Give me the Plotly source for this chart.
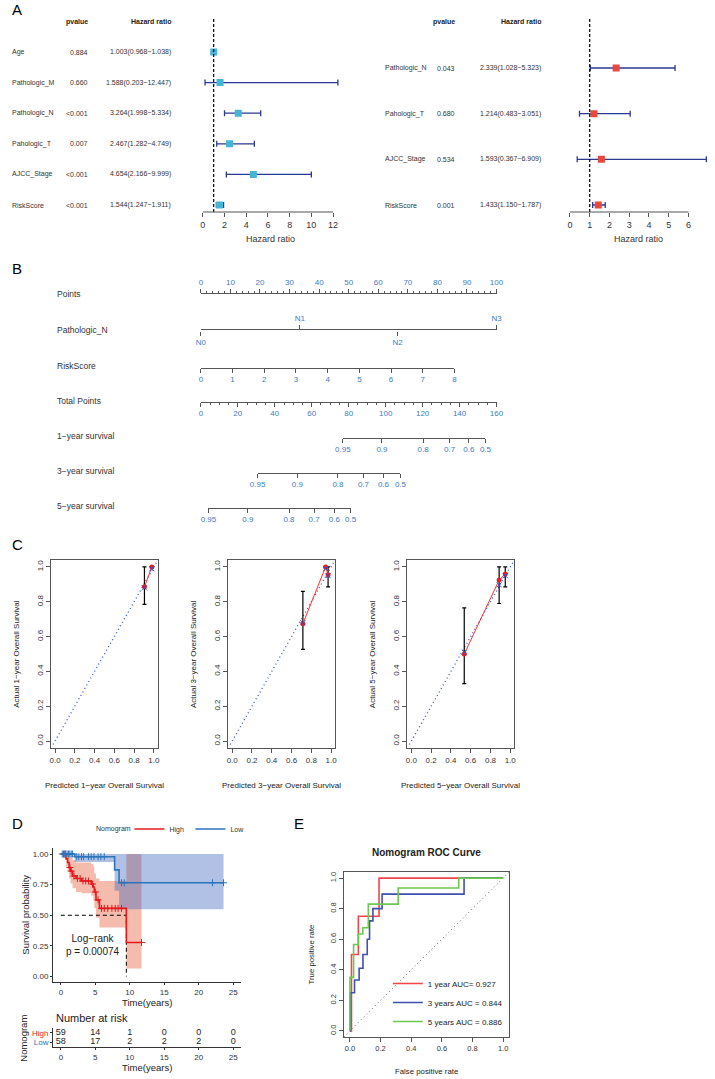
import numpy as np
import plotly.graph_objects as go

W, H = 715, 1079
FONT = "Liberation Sans, Arial, sans-serif"
AXC = "#555555"
NOMO_BLUE = "#3C7BC5"

# ---------------- A: Cox regression ----------------
uni_vars = ["Age", "Pathologic_M", "Pathologic_N", "Pahologic_T", "AJCC_Stage", "RiskScore"]
uni_pval = ["0.884", "0.660", "<0.001", "0.007", "<0.001", "<0.001"]
uni_hr = [1.003, 1.588, 3.264, 2.467, 4.654, 1.544]
uni_low = [0.968, 0.203, 1.998, 1.282, 2.166, 1.247]
uni_high = [1.038, 12.447, 5.334, 4.749, 9.999, 1.911]
uni_ticks = [0, 2, 4, 6, 8, 10, 12]

multi_vars = ["Pathologic_N", "Pahologic_T", "AJCC_Stage", "RiskScore"]
multi_pval = ["0.043", "0.680", "0.534", "0.001"]
multi_hr = [2.339, 1.214, 1.593, 1.433]
multi_low = [1.028, 0.483, 0.367, 1.150]
multi_high = [5.323, 3.051, 6.909, 1.787]
multi_ticks = [0, 1, 2, 3, 4, 5, 6]

# ---------------- B: nomogram ----------------
points_ticks = list(range(0, 101, 10))
pathn_levels = ["N0", "N1", "N2", "N3"]
pathn_points = [0, 33.5, 66.5, 100]
risk_ticks = list(range(0, 9))
risk_points_per_unit = 10.72
total_ticks = list(range(0, 161, 20))
surv_labels = ["0.95", "0.9", "0.8", "0.7", "0.6", "0.5"]
surv1_total = [76.8, 98.0, 120.3, 134.6, 145.0, 154.0]
surv3_total = [30.7, 52.2, 74.2, 88.0, 98.8, 108.0]
surv5_total = [4.1, 25.4, 47.7, 61.3, 72.2, 81.0]

# ---------------- C: calibration ----------------
cal1_pred = [0.905, 0.98]
cal1_obs = [0.886, 1.0]
cal1_low = [0.785, 1.0]
cal1_high = [1.0, 1.0]
cal1_corr = [0.88, 0.99]
cal3_pred = [0.715, 0.945, 0.97]
cal3_obs = [0.674, 1.0, 0.955]
cal3_low = [0.526, 1.0, 0.886]
cal3_high = [0.86, 1.0, 1.0]
cal3_corr = [0.68, 0.99, 0.95]
cal5_pred = [0.535, 0.888, 0.95]
cal5_obs = [0.50, 0.925, 0.96]
cal5_low = [0.33, 0.79, 0.886]
cal5_high = [0.765, 1.0, 1.0]
cal5_corr = [0.51, 0.897, 0.95]
cal_ticks = [0, 0.2, 0.4, 0.6, 0.8, 1.0]

# ---------------- D: Kaplan-Meier ----------------
high_time = [0, 0.75, 1.0, 1.2, 1.4, 1.7, 2.2, 3.0, 4.4, 4.7, 4.85, 5.1, 5.6, 9.5]
high_surv = [1.0, 0.96, 0.93, 0.89, 0.86, 0.82, 0.80, 0.78, 0.755, 0.73, 0.69, 0.625, 0.556, 0.278]
high_lower = [1.0, 0.90, 0.86, 0.80, 0.76, 0.72, 0.69, 0.68, 0.66, 0.62, 0.56, 0.48, 0.40, 0.065]
high_upper = [1.0, 1.0, 1.0, 0.99, 0.97, 0.95, 0.93, 0.93, 0.92, 0.90, 0.84, 0.80, 0.78, 1.0]
high_end = 11.7
high_censor = [0.4, 0.6, 1.3, 1.5, 1.9, 2.4, 2.8, 3.2, 3.6, 4.0, 4.6, 5.0, 5.4, 5.9,
               6.3, 6.8, 7.4, 7.9, 8.3, 8.8, 11.7]
low_time = [0, 2.0, 7.8, 8.45]
low_surv = [1.0, 0.978, 0.87, 0.765]
low_lower = [1.0, 0.935, 0.70, 0.548]
low_upper = [1.0, 1.0, 1.0, 1.0]
low_end = 23.6
low_censor = [0.2, 0.5, 0.7, 0.9, 1.1, 1.3, 1.5, 1.7, 2.3, 2.6, 3.0, 3.3, 4.0, 4.4,
              4.8, 5.4, 5.8, 6.3, 8.8, 9.2, 22.0, 23.6]
high_median = 9.5
logrank_p = "0.00074"
km_ticks = [0, 5, 10, 15, 20, 25]
risk_times = [0, 5, 10, 15, 20, 25]
risk_high = [59, 14, 1, 0, 0, 0]
risk_low = [58, 17, 2, 2, 2, 0]

# ---------------- E: ROC ----------------
roc1_fpr = [0, 0.01, 0.055, 0.19, 1.0]
roc1_tpr = [0, 0.5, 0.75, 1.0, 1.0]
roc3_fpr = [0, 0.003, 0.03, 0.06, 0.085, 0.113, 0.128, 0.15, 0.21, 0.745, 1.0]
roc3_tpr = [0, 0.25, 0.333, 0.41, 0.5, 0.6, 0.72, 0.8, 0.895, 1.0, 1.0]
roc5_fpr = [0, 0.0, 0.024, 0.055, 0.084, 0.12, 0.315, 0.71, 1.0]
roc5_tpr = [0, 0.35, 0.565, 0.634, 0.675, 0.83, 0.935, 1.0, 1.0]
roc_names = ["1 year AUC= 0.927", "3 years AUC = 0.844", "5 years AUC = 0.886"]


def px_x(p):
    return p / W


def px_y(p):
    return 1 - p / H


def xd(a, b):
    return [a / W, b / W]


def yd(top, bot):
    return [1 - bot / H, 1 - top / H]


def lin_range(p0, p1, va, pa, vb, pb):
    k = (vb - va) / (pb - pa)
    return [va + (p0 - pa) * k, va + (p1 - pa) * k]


fig = go.Figure()
lay = {}
ann = []
shp = []


def axes(n, xdom, ydom, xopt, yopt):
    s = "" if n == 1 else str(n)
    xa = dict(domain=xdom, anchor="y" + s, showgrid=False, zeroline=False, fixedrange=True)
    xa.update(xopt)
    ya = dict(domain=ydom, anchor="x" + s, showgrid=False, zeroline=False, fixedrange=True)
    ya.update(yopt)
    lay["xaxis" + s] = xa
    lay["yaxis" + s] = ya
    return "x" + s, "y" + s


def txt(text, x, y, size, xanchor="center", yanchor="middle", color="#222",
        xref="paper", yref="paper", angle=0):
    ann.append(dict(text=text, x=x, y=y, xref=xref, yref=yref, showarrow=False,
                    font=dict(size=size, color=color, family=FONT),
                    xanchor=xanchor, yanchor=yanchor, textangle=angle))


def hr_text(h, l, u):
    return f"{h:.3f}({l:.3f}\u2212{u:.3f})"


# ---- A: forest plots
def forest(n, xpx, zero_px, per_unit, rows_top, row_gap, vars_, pvals, hrs, lows, highs,
           ticks, color, label_x, p_x, hr_x, title_x):
    nrow = len(vars_)
    xr = lin_range(xpx[0], xpx[1], 0, zero_px, 1, zero_px + per_unit)
    yr = [(212 - rows_top) / row_gap, (15 - rows_top) / row_gap]
    xa, ya = axes(n, xd(*xpx), yd(15, 212),
                  dict(range=xr, tickvals=ticks, ticks="outside", ticklen=4, tickcolor=AXC,
                       tickfont=dict(size=9, color="#333", family=FONT)),
                  dict(visible=False, range=yr))
    rows = list(range(nrow))
    h = np.array(hrs)
    fig.add_trace(go.Scatter(
        x=hrs, y=rows, xaxis=xa, yaxis=ya, mode="markers",
        marker=dict(symbol="square", size=7, color=color),
        error_x=dict(type="data", symmetric=False, array=list(np.array(highs) - h),
                     arrayminus=list(h - np.array(lows)), color="#2B3990", thickness=1.3, width=3),
        showlegend=False, hoverinfo="skip"))
    shp.append(dict(type="line", xref=xa, yref=ya + " domain", x0=1, x1=1, y0=0, y1=0.985,
                    line=dict(color="black", width=1.2, dash="3px,2px")))
    shp.append(dict(type="line", xref=xa, yref=ya + " domain", x0=ticks[0], x1=ticks[-1],
                    y0=0, y1=0, line=dict(color=AXC, width=1)))
    for i in rows:
        txt(vars_[i], px_x(label_x), i, 7, xanchor="left", yref=ya, color="#333")
        txt(pvals[i], px_x(p_x), i, 7, xanchor="right", yref=ya, color="#333")
        txt(hr_text(hrs[i], lows[i], highs[i]), px_x(hr_x), i, 7, xanchor="right", yref=ya,
            color="#333")
    txt("<b>pvalue</b>", px_x(p_x), px_y(22), 7, xanchor="right")
    txt("<b>Hazard ratio</b>", px_x(hr_x), px_y(22), 7, xanchor="right")
    txt("Hazard ratio", px_x(title_x), px_y(239), 9, color="#333")


forest(1, (190, 345), 199, 133 / 12, 52, 30.6, uni_vars, uni_pval, uni_hr, uni_low, uni_high,
       uni_ticks, "#45B5D6", 2, 84, 169, 268)
forest(2, (560, 715), 574, 121 / 6, 68, 45.67, multi_vars, multi_pval, multi_hr, multi_low,
       multi_high, multi_ticks, "#E8483D", 383, 459, 546, 644)

# ---- B: nomogram rows
P0, P100 = 197, 499
T_MAX = total_ticks[-1]


def pts_px(p):
    return P0 + p * (P100 - P0) / 100


def tot_px(t):
    return P0 + t * (P100 - P0) / T_MAX


brow = dict(showline=True, linecolor=AXC, linewidth=1, ticks="outside", ticklen=4,
            tickcolor=AXC, tickfont=dict(size=8, color=NOMO_BLUE, family=FONT))


def nomo_row(n, x0, x1, line_y, xopt, vals):
    opt = dict(brow)
    opt.update(xopt)
    xa, ya = axes(n, xd(x0, x1), yd(line_y - 0.5, line_y + 0.5), opt,
                  dict(visible=False, range=[0, 1]))
    fig.add_trace(go.Scatter(x=vals, y=[0.5] * len(vals), xaxis=xa, yaxis=ya, mode="markers",
                             marker=dict(opacity=0), showlegend=False, hoverinfo="skip"))
    return xa, ya


nomo_row(3, P0, P100, 294, dict(range=[0, 100], side="top", tickmode="linear", tick0=0, dtick=10,
                                minor=dict(dtick=2, ticks="outside", ticklen=2, tickcolor=AXC)),
         points_ticks)
nomo_row(4, P0, P100, 330, dict(range=[0, 100], side="top", tickvals=pathn_points[1::2],
                                ticktext=pathn_levels[1::2]), pathn_points)
lay["xaxis5"] = dict(overlaying="x4", anchor="y4", side="bottom", range=[0, 100],
                     showline=False, showgrid=False, zeroline=False, ticks="outside", ticklen=4,
                     tickcolor=AXC, tickvals=pathn_points[0::2], ticktext=pathn_levels[0::2],
                     tickfont=dict(size=8, color=NOMO_BLUE, family=FONT), fixedrange=True)
fig.add_trace(go.Scatter(x=pathn_points, y=[0.5] * 4, xaxis="x5", yaxis="y4", mode="markers",
                         marker=dict(opacity=0), showlegend=False, hoverinfo="skip"))
nomo_row(6, P0, pts_px(risk_ticks[-1] * risk_points_per_unit), 367,
         dict(range=[risk_ticks[0], risk_ticks[-1]], tickvals=risk_ticks), risk_ticks)
nomo_row(7, P0, P100, 401, dict(range=[0, T_MAX], tickmode="linear", tick0=0, dtick=20,
                                minor=dict(dtick=5, ticks="outside", ticklen=2, tickcolor=AXC)),
         total_ticks)
for n, vals, ly in [(8, surv1_total, 437), (9, surv3_total, 472), (10, surv5_total, 507)]:
    nomo_row(n, tot_px(min(vals)), tot_px(max(vals)), ly,
             dict(range=[min(vals), max(vals)], tickvals=vals, ticktext=surv_labels), vals)

for lab, ly in [("Points", 294), ("Pathologic_N", 330), ("RiskScore", 366),
                ("Total Points", 401), ("1\u2212year survival", 436),
                ("3\u2212year survival", 471), ("5\u2212year survival", 506)]:
    txt(lab, px_x(48), px_y(ly), 8.5, xanchor="left", color="#333")

# ---- C: calibration plots
frame = dict(range=[-0.04, 1.04], showline=True, mirror=True, linecolor=AXC, linewidth=1,
             ticks="outside", ticklen=4, tickcolor=AXC, tickvals=cal_ticks, tickformat=".1f",
             tickfont=dict(size=8, color="#333", family=FONT))
cal_sets = [
    (11, 44, 1, cal1_pred, cal1_obs, cal1_low, cal1_high, cal1_corr),
    (12, 225, 3, cal3_pred, cal3_obs, cal3_low, cal3_high, cal3_corr),
    (13, 408, 5, cal5_pred, cal5_obs, cal5_low, cal5_high, cal5_corr),
]
for n, left, yr, pred, obs, lo, hi, corr in cal_sets:
    yopt = dict(frame)
    yopt["tickangle"] = -90
    xa, ya = axes(n, xd(left, left + 109), yd(560, 748), dict(frame), yopt)
    fig.add_trace(go.Scatter(x=[-0.02, 1.04], y=[-0.02, 1.04], xaxis=xa, yaxis=ya, mode="lines",
                             line=dict(color="#3355DD", width=1.3, dash="1px,3px"),
                             showlegend=False, hoverinfo="skip"))
    o = np.array(obs)
    fig.add_trace(go.Scatter(
        x=pred, y=obs, xaxis=xa, yaxis=ya, mode="lines+markers",
        line=dict(color="#FF3030", width=1), marker=dict(size=5, color="#E0202A"),
        error_y=dict(type="data", symmetric=False, array=list(np.array(hi) - o),
                     arrayminus=list(o - np.array(lo)), color="black", thickness=1.2, width=2),
        showlegend=False, hoverinfo="skip"))
    fig.add_trace(go.Scatter(x=pred, y=corr, xaxis=xa, yaxis=ya, mode="markers",
                             marker=dict(symbol="x-thin-open", size=5, color="#3050C0",
                                         line=dict(width=1, color="#3050C0")),
                             showlegend=False, hoverinfo="skip"))
    txt(f"Predicted {yr}\u2212year Overall Survival", px_x(left + 54.5), px_y(785), 8)
    txt(f"Actual {yr}\u2212year Overall Survival", px_x(left - 36), px_y(654), 8, angle=-90)

# ---- D: Kaplan-Meier
km_xr = lin_range(46, 238, 0, 54, 25, 230)
km_yr = lin_range(982, 848, 0, 976.5, 1, 854)
kmx = dict(range=km_xr, showline=True, linecolor="#333", linewidth=1, ticks="outside",
           ticklen=2, tickcolor="#333", tickvals=km_ticks,
           tickfont=dict(size=8, color="#333", family=FONT))
xk, yk = axes(14, xd(46, 238), yd(848, 982), dict(kmx),
              dict(range=km_yr, showline=True, linecolor="#333", linewidth=1, ticks="outside",
                   ticklen=2, tickcolor="#333", tickvals=[0, 0.25, 0.5, 0.75, 1.0],
                   tickformat=".2f", tickfont=dict(size=8, color="#333", family=FONT)))


def step_at(ts, ss, x):
    idx = np.searchsorted(np.array(ts), np.array(x), side="right") - 1
    return list(np.array(ss)[idx])


groups = [
    ("High", high_time, high_surv, high_lower, high_upper, high_end, high_censor,
     "#E41A1C", "rgba(235,120,90,0.5)"),
    ("Low", low_time, low_surv, low_lower, low_upper, low_end, low_censor,
     "#2A74BC", "rgba(60,100,190,0.4)"),
]
for name, t, s, lo, hi, end, cens, col, fill in groups:
    tx = t + [end]
    fig.add_trace(go.Scatter(x=tx, y=lo + [lo[-1]], xaxis=xk, yaxis=yk, mode="lines",
                             line=dict(width=0, shape="hv"), showlegend=False, hoverinfo="skip"))
    fig.add_trace(go.Scatter(x=tx, y=hi + [hi[-1]], xaxis=xk, yaxis=yk, mode="lines",
                             line=dict(width=0, shape="hv"), fill="tonexty", fillcolor=fill,
                             showlegend=False, hoverinfo="skip"))
fig.add_trace(go.Scatter(x=[0, high_median, high_median], y=[0.5, 0.5, 0], xaxis=xk, yaxis=yk,
                         mode="lines", line=dict(color="black", width=1, dash="4px,3px"),
                         showlegend=False, hoverinfo="skip"))
for name, t, s, lo, hi, end, cens, col, fill in groups:
    fig.add_trace(go.Scatter(x=t + [end], y=s + [s[-1]], xaxis=xk, yaxis=yk, mode="lines",
                             line=dict(color=col, width=1.6, shape="hv"), name=name,
                             legend="legend", showlegend=True, hoverinfo="skip"))
    fig.add_trace(go.Scatter(x=cens, y=step_at(t, s, cens), xaxis=xk, yaxis=yk, mode="markers",
                             marker=dict(symbol="cross-thin-open", size=5, color=col,
                                         line=dict(width=1, color=col)),
                             showlegend=False, hoverinfo="skip"))
txt(f"Log\u2212rank<br>p = {logrank_p}", 0.5, 0.26, 10, xanchor="left", xref=xk, yref=yk,
    color="#222")
txt("Survival probability", px_x(17), px_y(915), 9.5, angle=-90)
txt("Time(years)", px_x(142), px_y(1002), 9.5)
txt("Nomogram", px_x(128), px_y(829), 7, xanchor="right", color="#333")

# risk table
xr_, yr_ = axes(15, xd(46, 238), yd(1028, 1047), dict(kmx),
                dict(range=[-0.55, 1.55], showline=True, linecolor="#333", linewidth=1,
                     ticks="outside", ticklen=2, tickcolor="#333", tickvals=[1, 0],
                     ticktext=['<span style="color:#E41A1C">High</span>',
                               '<span style="color:#2A74BC">Low</span>'],
                     tickfont=dict(size=8, family=FONT)))
for yv, vals in [(1, risk_high), (0, risk_low)]:
    fig.add_trace(go.Scatter(x=risk_times, y=[yv] * len(vals), xaxis=xr_, yaxis=yr_,
                             mode="text", text=[str(v) for v in vals],
                             textfont=dict(size=9, color="#222", family=FONT),
                             showlegend=False, hoverinfo="skip"))
txt("Number at risk", px_x(47), px_y(1018), 11, xanchor="left")
txt("Time(years)", px_x(142), px_y(1067), 9.5)
txt("Nomogram", px_x(15), px_y(1038), 9.5, angle=-90)

# ---- E: ROC
eframe = dict(range=[-0.04, 1.04], showline=True, mirror=True, linecolor=AXC, linewidth=1,
              ticks="outside", ticklen=4, tickcolor=AXC, tickvals=cal_ticks, tickformat=".1f",
              tickfont=dict(size=7.5, color="#333", family=FONT))
ey = dict(eframe)
ey["tickangle"] = -90
xe, ye = axes(16, xd(343, 512), yd(872, 1037), dict(eframe), ey)
fig.add_trace(go.Scatter(x=[-0.04, 1.04], y=[-0.04, 1.04], xaxis=xe, yaxis=ye, mode="lines",
                         line=dict(color="#666", width=1, dash="1px,3px"),
                         showlegend=False, hoverinfo="skip"))
for fpr, tpr, nm, col in [(roc1_fpr, roc1_tpr, roc_names[0], "#F2454B"),
                          (roc3_fpr, roc3_tpr, roc_names[1], "#3E50B0"),
                          (roc5_fpr, roc5_tpr, roc_names[2], "#6CC850")]:
    fig.add_trace(go.Scatter(x=fpr, y=tpr, xaxis=xe, yaxis=ye, mode="lines",
                             line=dict(color=col, width=1.6, shape="hv"), name=nm,
                             legend="legend2", showlegend=True, hoverinfo="skip"))
txt("<b>Nomogram ROC Curve</b>", px_x(427), px_y(852), 10)
txt("False positive rate", px_x(427), px_y(1071), 7.8)
txt("True positive rate", px_x(310), px_y(954), 7.8, angle=-90)

# panel letters
for letter, x, y in [("A", 2, 9), ("B", 2, 268), ("C", 2, 544), ("D", 2, 823), ("E", 290, 823)]:
    txt(letter, px_x(x), px_y(y), 15, xanchor="left", color="black")

lay.update(
    width=W, height=H, margin=dict(l=0, r=0, t=0, b=0),
    paper_bgcolor="white", plot_bgcolor="rgba(0,0,0,0)",
    font=dict(family=FONT, color="#222"),
    annotations=ann, shapes=shp, showlegend=True,
    legend=dict(orientation="h", x=px_x(124), y=px_y(829), xanchor="left", yanchor="middle",
                font=dict(size=7, color="#333", family=FONT),
                bgcolor="rgba(0,0,0,0)", itemwidth=30, traceorder="normal",
                entrywidth=16, entrywidthmode="pixels"),
    legend2=dict(x=px_x(388), y=px_y(969), xanchor="left", yanchor="top",
                 font=dict(size=8, color="#222", family=FONT), bgcolor="rgba(0,0,0,0)",
                 tracegroupgap=0, itemwidth=30, traceorder="normal"),
)
fig.update_layout(lay)

fig.write_html("out.html", config={"displayModeBar": False},
               post_script="document.body.style.margin='0';")
